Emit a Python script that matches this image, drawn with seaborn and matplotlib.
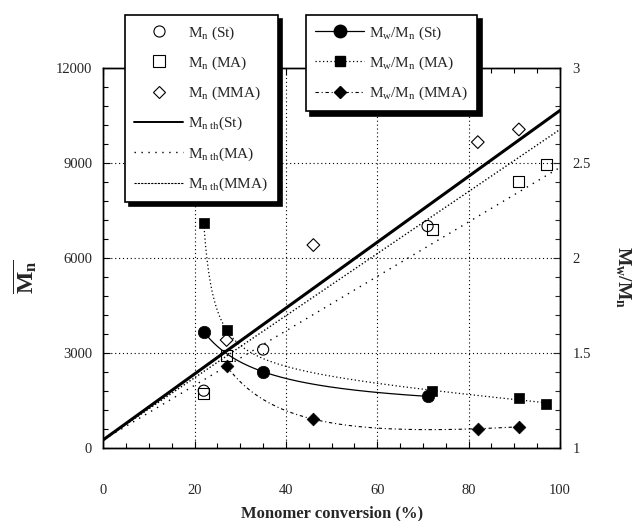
import numpy as np
import seaborn as sns
import matplotlib
matplotlib.use("Agg")
import matplotlib.pyplot as plt
from matplotlib.lines import Line2D
from matplotlib.ticker import MultipleLocator, FuncFormatter

# Mn (left axis) vs monomer conversion (%)
conv_st = [22, 35, 71]
mn_st = [1800, 3100, 7000]
conv_ma = [22, 27, 72, 91, 97]
mn_ma = [1700, 2900, 6900, 8400, 8950]
conv_mma = [27, 46, 82, 91]
mn_mma = [3400, 6400, 9650, 10050]

# Mw/Mn (right axis)
pdi_st = [1.61, 1.40, 1.27]
pdi_ma = [2.18, 1.62, 1.30, 1.26, 1.23]
pdi_mma = [1.43, 1.15, 1.10, 1.11]

# theoretical Mn lines, end points
conv_th = [0, 100]
mnth_st = [250, 10650]
mnth_ma = [250, 8850]
mnth_mma = [250, 10050]

sns.set_style("ticks")
plt.rcParams['font.family'] = ['Liberation Serif', 'DejaVu Serif']
plt.rcParams['mathtext.fontset'] = 'custom'
plt.rcParams['mathtext.rm'] = 'Liberation Serif'
plt.rcParams['mathtext.it'] = 'Liberation Serif:italic'
plt.rcParams['mathtext.bf'] = 'Liberation Serif:bold'


def trend(x, y, linear=True):
    # smooth decaying trend line: a + b/(x-c) (+ m*x), least squares
    x = np.asarray(x, float)
    y = np.asarray(y, float)
    best = None
    for c in np.linspace(0, x.min() - 1, 80):
        cols = [np.ones_like(x), 1 / (x - c)]
        if linear:
            cols.append(x)
        A = np.column_stack(cols)
        coef = np.linalg.lstsq(A, y, rcond=None)[0]
        r = np.sum((A @ coef - y) ** 2)
        if best is None or r < best[0]:
            best = (r, c, coef)
    _, c, coef = best
    xs = np.linspace(x.min(), x.max(), 200)
    ys = coef[0] + coef[1] / (xs - c)
    if linear:
        ys = ys + coef[2] * xs
    return xs, ys


fig, ax = plt.subplots(figsize=(6.4, 5.21), dpi=100)
fig.subplots_adjust(left=103.3 / 640, right=560 / 640, bottom=1 - 447.7 / 521, top=1 - 67.7 / 521)
ax2 = ax.twinx()

# theoretical lines
sns.lineplot(x=conv_th, y=mnth_st, ax=ax, color='black', lw=2.2)
sns.lineplot(x=conv_th, y=mnth_mma, ax=ax, color='black', lw=1.0, linestyle=(0, (1, 1.5)))
sns.lineplot(x=conv_th, y=mnth_ma, ax=ax, color='black', lw=1.0, linestyle=(0, (1, 4)))

# Mn points (open)
for xv, yv, mk, s in [(conv_st, mn_st, 'o', 64), (conv_ma, mn_ma, 's', 64), (conv_mma, mn_mma, 'D', 42)]:
    sns.scatterplot(x=xv, y=yv, ax=ax, marker=mk, s=s, color='black', edgecolor='black', linewidth=0.8, zorder=5)
    ax.collections[-1].set_facecolor('none')

# Mw/Mn trend curves
xs, ys = trend(conv_st, pdi_st, linear=False)
sns.lineplot(x=xs, y=ys, ax=ax2, color='black', lw=0.9)
xs, ys = trend(conv_ma, pdi_ma)
sns.lineplot(x=xs, y=ys, ax=ax2, color='black', lw=0.9, linestyle=(0, (1, 2)))
xs, ys = trend(conv_mma, pdi_mma)
sns.lineplot(x=xs, y=ys, ax=ax2, color='black', lw=0.8, linestyle=(0, (3, 2.5, 1, 2.5)))

# Mw/Mn points (filled)
for xv, yv, mk, s in [(conv_st, pdi_st, 'o', 80), (conv_ma, pdi_ma, 's', 55), (conv_mma, pdi_mma, 'D', 42)]:
    sns.scatterplot(x=xv, y=yv, ax=ax2, marker=mk, s=s, color='black', edgecolor='black', linewidth=0.5, zorder=5)

# axes
ax.set_xlim(0, 100)
ax.set_ylim(0, 12000)
ax2.set_ylim(1, 3)
ax.xaxis.set_major_locator(MultipleLocator(20))
ax.xaxis.set_minor_locator(MultipleLocator(5))
ax.yaxis.set_major_locator(MultipleLocator(3000))
ax.yaxis.set_minor_locator(MultipleLocator(600))
ax2.yaxis.set_major_locator(MultipleLocator(0.5))
ax2.yaxis.set_minor_locator(MultipleLocator(0.1))
ax2.yaxis.set_major_formatter(FuncFormatter(lambda v, p: '%g' % v))

ax.grid(True, which='major', color='black', lw=0.8, linestyle=(0, (1, 2.5)))
ax.tick_params(which='both', direction='in', top=True, right=False, labelsize=10.5, color='black')
ax.tick_params(axis='x', which='both', pad=26)
ax.tick_params(axis='y', pad=8)
ax.tick_params(which='major', length=5, width=0.8)
ax.tick_params(which='minor', length=3.5, width=0.8)
ax2.tick_params(which='both', direction='in', labelsize=10.5, pad=9)
ax2.tick_params(which='major', length=5, width=0.8)
ax2.tick_params(which='minor', length=3.5, width=0.8)
for a in (ax, ax2):
    for sp in a.spines.values():
        sp.set_color('black')
        sp.set_linewidth(1.0)

ax.set_xlabel('Monomer conversion (%)', fontsize=12, fontweight='bold', labelpad=6)
ax.set_ylabel(r'$\overline{\mathbf{M}_\mathbf{n}}$', fontsize=17, rotation=90)
ax.yaxis.set_label_coords(-0.14, 0.45)
ax2.set_ylabel(r'$\mathbf{M}_\mathbf{w}\mathbf{/M}_\mathbf{n}$', fontsize=14, rotation=270)
ax2.yaxis.set_label_coords(1.16, 0.45)

# legends
leg_kw = dict(loc='upper left', frameon=True, fancybox=False, framealpha=1, edgecolor='black',
              fontsize=11, borderaxespad=0, borderpad=0.6, handlelength=3.2, handletextpad=0.35,
              labelspacing=0.85, bbox_transform=fig.transFigure,
              shadow={'color': 'black', 'alpha': 1, 'ox': 3, 'oy': -3})
h1 = [
    Line2D([], [], ls='none', marker='o', ms=8, mfc='none', mec='black', mew=0.8),
    Line2D([], [], ls='none', marker='s', ms=8, mfc='none', mec='black', mew=0.8),
    Line2D([], [], ls='none', marker='D', ms=6.5, mfc='none', mec='black', mew=0.8),
    Line2D([], [], color='black', lw=1.4),
    Line2D([], [], color='black', lw=1.0, ls=(0, (1, 4))),
    Line2D([], [], color='black', lw=0.8, ls=(0, (2, 1))),
]
l1 = [r'M$_{\rm n}$ (St)', r'M$_{\rm n}$ (MA)', r'M$_{\rm n}$ (MMA)',
      r'M$_{\rm n\ th}$(St)', r'M$_{\rm n\ th}$(MA)', r'M$_{\rm n\ th}$(MMA)']
leg1 = fig.legend(handles=h1, labels=l1, bbox_to_anchor=(125 / 640, 1 - 15 / 521), **leg_kw)
leg1.get_frame().set_linewidth(1.2)

h2 = [
    Line2D([], [], color='black', lw=0.9, marker='o', ms=9, mfc='black', mec='black'),
    Line2D([], [], color='black', lw=0.9, ls=(0, (1, 2)), marker='s', ms=7, mfc='black', mec='black'),
    Line2D([], [], color='black', lw=0.8, ls=(0, (3, 2.5, 1, 2.5)), marker='D', ms=6.5, mfc='black', mec='black'),
]
l2 = [r'M$_{\rm w}$/M$_{\rm n}$ (St)', r'M$_{\rm w}$/M$_{\rm n}$ (MA)', r'M$_{\rm w}$/M$_{\rm n}$ (MMA)']
leg2 = fig.legend(handles=h2, labels=l2, bbox_to_anchor=(306 / 640, 1 - 15 / 521), **leg_kw)
leg2.get_frame().set_linewidth(1.2)

fig.savefig('out.png', dpi=100)
